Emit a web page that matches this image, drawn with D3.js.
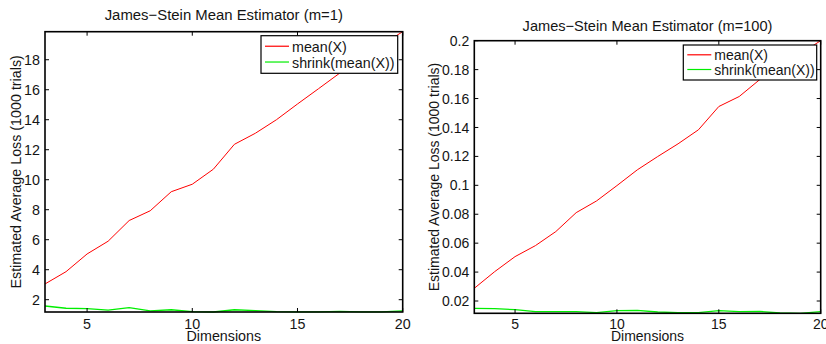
<!DOCTYPE html>
<html>
<head>
<meta charset="utf-8">
<script src="https://cdn.jsdelivr.net/npm/d3@7"></script>
<style>
  body { margin: 0; background: #fff; }
  svg text { font-family: "Liberation Sans", Arial, Helvetica, sans-serif; fill: #151515; }
</style>
</head>
<body>
<div id="chart"></div>
<script>
// data
var dims = [3, 4, 5, 6, 7, 8, 9, 10, 11, 12, 13, 14, 15, 16, 17, 18, 19, 20];

var meanLoss1 = [3.05, 3.87, 5.05, 5.9, 7.28, 7.93, 9.2, 9.7, 10.7, 12.36, 13.1, 14.0, 15.05, 16.07, 17.1, 18.1, 19.0, 19.87];
var shrinkLoss1 = [1.58, 1.43, 1.41, 1.31, 1.47, 1.25, 1.33, 1.2, 1.18, 1.33, 1.27, 1.2, 1.19, 1.19, 1.22, 1.19, 1.19, 1.25];

var meanLoss100 = [0.0288, 0.0403, 0.0507, 0.0583, 0.068, 0.0811, 0.0892, 0.0998, 0.1107, 0.1199, 0.1287, 0.1384, 0.1545, 0.1614, 0.173, 0.182, 0.191, 0.2];
var shrinkLoss100 = [0.0149, 0.0147, 0.014, 0.0126, 0.0126, 0.0126, 0.012, 0.0133, 0.0135, 0.0124, 0.012, 0.012, 0.0133, 0.0126, 0.0128, 0.0117, 0.0115, 0.0126];

var xTicks = [5, 10, 15, 20];
var yTicks1 = [2, 4, 6, 8, 10, 12, 14, 16, 18];
var yTicks100 = [0.02, 0.04, 0.06, 0.08, 0.1, 0.12, 0.14, 0.16, 0.18, 0.2];

var seriesNames = ["mean(X)", "shrink(mean(X))"];
var seriesColors = ["#ff0000", "#00ee00"];

var svgWidth = 826;
var svgHeight = 344;

var svg = d3.select("#chart")
    .append("svg")
    .attr("width", svgWidth)
    .attr("height", svgHeight);

function drawPanel(p) {
    var g = svg.append("g");

    var x = d3.scaleLinear()
        .domain(d3.extent(dims))
        .range([p.left, p.right]);

    // tight axis, like matlab
    var y = d3.scaleLinear()
        .domain(d3.extent(p.series[0].concat(p.series[1])))
        .range([p.bottom, p.top]);

    var line = d3.line()
        .x(function (d, i) { return x(dims[i]); })
        .y(function (d) { return y(d); });

    p.series.forEach(function (s, i) {
        g.append("path")
            .datum(s)
            .attr("d", line)
            .attr("fill", "none")
            .attr("stroke", seriesColors[i])
            .attr("stroke-width", i == 0 ? 1 : 1.3);
    });

    // ticks on all four sides, pointing in
    var tl = 4;
    var ax = g.append("g").attr("stroke", "#000").attr("stroke-width", 1);
    xTicks.forEach(function (t) {
        ax.append("line").attr("x1", x(t)).attr("x2", x(t)).attr("y1", p.bottom).attr("y2", p.bottom - tl);
        ax.append("line").attr("x1", x(t)).attr("x2", x(t)).attr("y1", p.top).attr("y2", p.top + tl);
    });
    p.yTicks.forEach(function (t) {
        ax.append("line").attr("x1", p.left).attr("x2", p.left + tl).attr("y1", y(t)).attr("y2", y(t));
        ax.append("line").attr("x1", p.right).attr("x2", p.right - tl).attr("y1", y(t)).attr("y2", y(t));
    });

    g.append("rect")
        .attr("x", p.left)
        .attr("y", p.top)
        .attr("width", p.right - p.left)
        .attr("height", p.bottom - p.top)
        .attr("fill", "none")
        .attr("stroke", "#000")
        .attr("stroke-width", 1.6);

    // tick labels
    g.selectAll(".xl")
        .data(xTicks)
        .enter()
        .append("text")
        .attr("x", function (d) { return x(d); })
        .attr("y", 328.5)
        .attr("text-anchor", "middle")
        .style("font-size", p.fs + "px")
        .text(function (d) { return d; });

    g.selectAll(".yl")
        .data(p.yTicks)
        .enter()
        .append("text")
        .attr("x", p.left - 5)
        .attr("y", function (d) { return y(d); })
        .attr("dy", "0.36em")
        .attr("text-anchor", "end")
        .style("font-size", p.fs + "px")
        .text(function (d) { return d3.format("~g")(d); });

    // titles
    g.append("text")
        .attr("x", (p.left + p.right) / 2)
        .attr("y", p.titleY)
        .attr("text-anchor", "middle")
        .style("font-size", (p.fs + 0.6) + "px")
        .text(p.title);

    g.append("text")
        .attr("x", (p.left + p.right) / 2)
        .attr("y", 341)
        .attr("text-anchor", "middle")
        .style("font-size", p.fs + "px")
        .text("Dimensions");

    g.append("text")
        .attr("transform", "translate(" + p.ylabX + "," + (p.top + p.bottom) / 2 + ") rotate(-90)")
        .attr("text-anchor", "middle")
        .style("font-size", p.fs + "px")
        .text("Estimated Average Loss (1000 trials)");

    // legend
    var lg = g.append("g");
    lg.append("rect")
        .attr("x", p.leg.x)
        .attr("y", p.leg.y)
        .attr("width", p.leg.w)
        .attr("height", p.leg.h)
        .attr("fill", "#fff")
        .attr("stroke", "#000")
        .attr("stroke-width", 1.2);
    seriesNames.forEach(function (name, i) {
        var ly = p.leg.y + p.leg.h * (i == 0 ? 0.28 : 0.7);
        lg.append("line")
            .attr("x1", p.leg.x + 4)
            .attr("x2", p.leg.x + 28)
            .attr("y1", ly)
            .attr("y2", ly)
            .attr("stroke", seriesColors[i])
            .attr("stroke-width", 1.2);
        lg.append("text")
            .attr("x", p.leg.x + 31)
            .attr("y", ly)
            .attr("dy", "0.4em")
            .style("font-size", p.fs + "px")
            .text(name);
    });
}

drawPanel({
    left: 45, right: 402.7, top: 31.7, bottom: 312,
    series: [meanLoss1, shrinkLoss1],
    yTicks: yTicks1,
    title: "James\u2212Stein Mean Estimator (m=1)",
    titleY: 20,
    ylabX: 21,
    fs: 14.3,
    leg: { x: 261, y: 35.7, w: 136.7, h: 37.6 }
});

drawPanel({
    left: 474.3, right: 820.7, top: 40.7, bottom: 313.3,
    series: [meanLoss100, shrinkLoss100],
    yTicks: yTicks100,
    title: "James\u2212Stein Mean Estimator (m=100)",
    titleY: 30.5,
    ylabX: 439,
    fs: 14,
    leg: { x: 683.3, y: 45, w: 133.4, h: 35 }
});
</script>
</body>
</html>
